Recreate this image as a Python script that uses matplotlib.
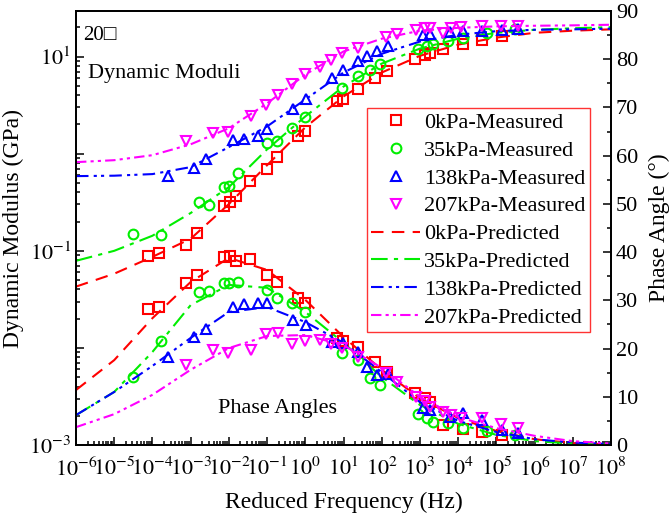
import numpy as np
import matplotlib
matplotlib.use("Agg")
import matplotlib.pyplot as plt
from matplotlib.ticker import LogLocator, FuncFormatter, MultipleLocator, NullFormatter

plt.rcParams['font.family'] = ['Liberation Serif', 'DejaVu Serif']
plt.rcParams['mathtext.fontset'] = 'stix'

# Measured data: frequency (Hz), dynamic modulus (GPa), phase angle (deg)
f_0 = [7.5e-5, 1.5e-4, 7.6e-4, 1.5e-3, 7.6e-3, 1.07e-2, 1.54e-2, 3.6e-2, 9.8e-2, 0.18, 0.66, 0.98,
       6.7, 9.9, 24, 67, 135, 745, 1360, 1840, 4100, 1.37e4, 4.15e4, 1.38e5]
E_0 = [0.088, 0.095, 0.115, 0.153, 0.288, 0.316, 0.369, 0.526, 0.693, 0.936, 1.52, 1.71,
       3.48, 3.62, 4.67, 6.05, 7.07, 9.47, 10.5, 10.9, 12.0, 13.6, 14.9, 16.4]
phi_0 = [28.3, 28.6, 33.5, 35.3, 39.0, 39.2, 38.2, 38.5, 35.3, 33.9, 30.4, 29.4,
         22.1, 21.6, 20.4, 17.3, 15.2, 10.7, 9.7, 8.9, 4.1, 3.4, 2.7, 2.0]

f_35 = [3.05e-5, 1.68e-4, 1.69e-3, 3.08e-3, 7.6e-3, 1.03e-2, 1.77e-2, 9.8e-2, 0.179, 0.442, 0.984,
        9.0, 24.4, 49.5, 90.4, 908, 1510, 2240, 5540, 1.37e4, 5.6e4, 3.08e5]
E_35 = [0.149, 0.144, 0.316, 0.297, 0.450, 0.461, 0.636, 1.30, 1.35, 1.86, 2.41,
        4.78, 6.28, 7.36, 8.48, 12.0, 13.0, 13.6, 14.4, 15.7, 17.6, 19.1]
phi_35 = [14.0, 21.6, 31.8, 32.0, 33.5, 33.5, 33.9, 32.1, 30.4, 29.4, 27.6,
          19.0, 17.6, 13.8, 12.5, 6.4, 5.5, 4.8, 4.5, 3.5, 2.8, 2.1]

f_138 = [2.51e-4, 1.25e-3, 2.52e-3, 1.26e-2, 2.54e-2, 5.9e-2, 9.8e-2, 0.486, 1.05, 4.92, 9.9,
         24.4, 40.5, 74.1, 149, 1230, 1840, 6140, 1.37e4, 4.15e4, 1.38e5, 3.77e5]
E_138 = [0.583, 0.710, 0.879, 1.39, 1.41, 1.52, 1.81, 2.91, 3.62, 5.97, 7.31,
         9.10, 10.2, 11.5, 12.8, 16.6, 17.1, 18.0, 18.2, 18.2, 18.9, 19.1]
phi_138 = [18.3, 22.3, 24.0, 28.7, 29.2, 29.4, 29.5, 25.9, 24.9, 21.4, 21.2,
           19.3, 16.2, 14.5, 14.7, 7.6, 7.3, 5.9, 6.6, 5.2, 3.1, 2.4]

f_207 = [7.6e-4, 3.79e-3, 9.3e-3, 3.8e-2, 9.4e-2, 0.197, 0.45, 0.984, 2.43, 4.58, 9.4, 23.3,
         130, 247, 768, 1360, 1840, 3910, 6320, 1.19e4, 4.15e4, 1.29e5, 3.59e5]
E_207 = [1.35, 1.65, 1.69, 2.44, 3.14, 4.07, 5.28, 6.69, 7.84, 9.31, 10.9, 12.4,
         15.8, 17.3, 18.8, 19.7, 19.7, 17.6, 19.9, 20.3, 20.5, 20.5, 20.7]
phi_207 = [16.6, 19.7, 19.0, 19.7, 23.0, 23.3, 20.9, 21.6, 21.8, 20.9, 20.2, 18.3,
           14.9, 13.1, 10.0, 9.1, 7.9, 6.9, 6.2, 5.7, 5.5, 4.4, 3.5]

# Predicted curves read at each decade
f_pred = [1e-6, 1e-5, 1e-4, 1e-3, 1e-2, 1e-1, 1e0, 1e1, 1e2, 1e3, 1e4, 1e5, 1e6, 1e7, 1e8]
E_pred_0 = [0.0428, 0.0581, 0.0867, 0.133, 0.303, 0.762, 1.87, 3.89, 6.86, 10.2, 13.3, 15.7, 17.6, 18.5, 19.1]
E_pred_35 = [0.0789, 0.100, 0.143, 0.245, 0.453, 1.11, 2.42, 4.92, 8.47, 12.1, 15.3, 17.6, 18.9, 19.6, 20.1]
E_pred_138 = [0.588, 0.594, 0.617, 0.728, 1.17, 1.91, 3.62, 6.86, 10.7, 14.3, 16.8, 18.3, 18.9, 19.1, 19.4]
E_pred_207 = [0.819, 0.858, 0.966, 1.25, 1.83, 3.30, 6.53, 11.3, 15.3, 18.5, 19.8, 20.5, 20.8, 21.0, 21.3]
phi_pred_0 = [11.4, 17.6, 26.3, 33.8, 38.8, 36.3, 30.1, 22.4, 15.6, 9.7, 5.6, 2.9, 1.2, 0.4, 0.1]
phi_pred_35 = [6.2, 11.0, 19.3, 29.0, 33.2, 32.6, 27.6, 21.2, 14.1, 8.3, 4.4, 2.1, 0.8, 0.3, 0.1]
phi_pred_138 = [6.2, 11.0, 16.4, 22.2, 27.6, 28.6, 25.5, 21.2, 15.1, 8.9, 5.0, 2.7, 1.2, 0.5, 0.2]
phi_pred_207 = [3.7, 6.4, 10.4, 15.6, 20.1, 22.6, 22.8, 20.7, 16.0, 10.0, 5.8, 3.5, 1.9, 0.8, 0.3]

labels = ['0kPa', '35kPa', '138kPa', '207kPa']
colors = ['#ff0000', '#00ee00', '#0000ff', '#ff00ff']
markers = ['s', 'o', '^', 'v']
dashes = [(0, (6, 4)), (0, (8, 3, 2, 3)), (0, (6, 2.5, 1.5, 2, 1.5, 2.5)), (0, (5, 2, 1.5, 2, 1.5, 2))]

meas = [(f_0, E_0, phi_0), (f_35, E_35, phi_35), (f_138, E_138, phi_138), (f_207, E_207, phi_207)]
preds = [(E_pred_0, phi_pred_0), (E_pred_35, phi_pred_35), (E_pred_138, phi_pred_138), (E_pred_207, phi_pred_207)]

fig = plt.figure(figsize=(6.71, 5.22), dpi=100)
ax = fig.add_axes([76/671, 1 - 445/522, 535/671, 434/522])
ax2 = ax.twinx()

mhandles = []
lhandles = []
for i in range(4):
    f, E, phi = meas[i]
    Ep, php = preds[i]
    h, = ax.plot(f, E, ls='none', marker=markers[i], ms=7, mfc='none', mec=colors[i], mew=1.5)
    ax2.plot(f, phi, ls='none', marker=markers[i], ms=7, mfc='none', mec=colors[i], mew=1.5)
    l, = ax.plot(f_pred, Ep, color=colors[i], ls=dashes[i], lw=1.5)
    ax2.plot(f_pred, php, color=colors[i], ls=dashes[i], lw=1.5)
    mhandles.append(h)
    lhandles.append(l)

ax.set_xscale('log')
ax.set_yscale('log')
ax.set_xlim(1e-6, 1e8)
ax.set_ylim(1e-3, 10**1.47)
ax2.set_ylim(0, 90)

ax.xaxis.set_major_locator(LogLocator(base=10, numticks=20))
ax.xaxis.set_minor_locator(LogLocator(base=10, subs=np.arange(2, 10), numticks=200))
ax.xaxis.set_minor_formatter(NullFormatter())
ax.xaxis.set_major_formatter(FuncFormatter(lambda v, p: r'$10^{%d}$' % round(np.log10(v))))

ax.yaxis.set_major_locator(LogLocator(base=10, numticks=20))
ax.yaxis.set_minor_locator(LogLocator(base=10, subs=np.arange(2, 10), numticks=200))
ax.yaxis.set_minor_formatter(NullFormatter())

def ylab(v, p):
    e = int(round(np.log10(v)))
    if e % 2 == 0:
        return ''
    return r'$10^{%d}$' % e
ax.yaxis.set_major_formatter(FuncFormatter(ylab))

ax2.yaxis.set_major_locator(MultipleLocator(10))
ax2.yaxis.set_minor_locator(MultipleLocator(5))

for a in (ax, ax2):
    for s in a.spines.values():
        s.set_linewidth(1.3)
ax.tick_params(which='both', direction='in', top=False, right=False, labelsize=16, width=1.1)
ax.tick_params(which='major', length=6)
ax.tick_params(which='minor', length=3)
ax.tick_params(axis='x', pad=9)
ax2.tick_params(which='both', direction='in', labelsize=16, width=1.1)
ax2.tick_params(which='major', length=6)
ax2.tick_params(which='minor', length=3)

ax.set_xlabel('Reduced Frequency (Hz)', fontsize=17, labelpad=8)
ax.set_ylabel('Dynamic Modulus (GPa)', fontsize=17, labelpad=4)
ax2.set_ylabel('Phase Angle (°)', fontsize=17, labelpad=8)

ax.text(0.013, 0.965, '20\u25a1', transform=ax.transAxes, fontsize=15, va='top', ha='left',
        family=['Liberation Serif', 'DejaVu Serif'])
ax.text(0.022, 0.855, 'Dynamic Moduli', transform=ax.transAxes, fontsize=16, va='center', ha='left')
ax.text(0.265, 0.085, 'Phase Angles', transform=ax.transAxes, fontsize=16, va='center', ha='left')

handles = mhandles + lhandles
names = [n + '-Measured' for n in labels] + [n + '-Predicted' for n in labels]
leg = ax2.legend(handles, names, loc='upper left', bbox_to_anchor=(0.544, 0.777), fontsize=16,
                 frameon=True, fancybox=False, borderpad=0.2, labelspacing=0.33,
                 handlelength=2.2, handletextpad=0.15, borderaxespad=0)
leg.get_frame().set_edgecolor('#ff0000')
leg.get_frame().set_linewidth(1.0)

fig.savefig('out.png', dpi=100)
